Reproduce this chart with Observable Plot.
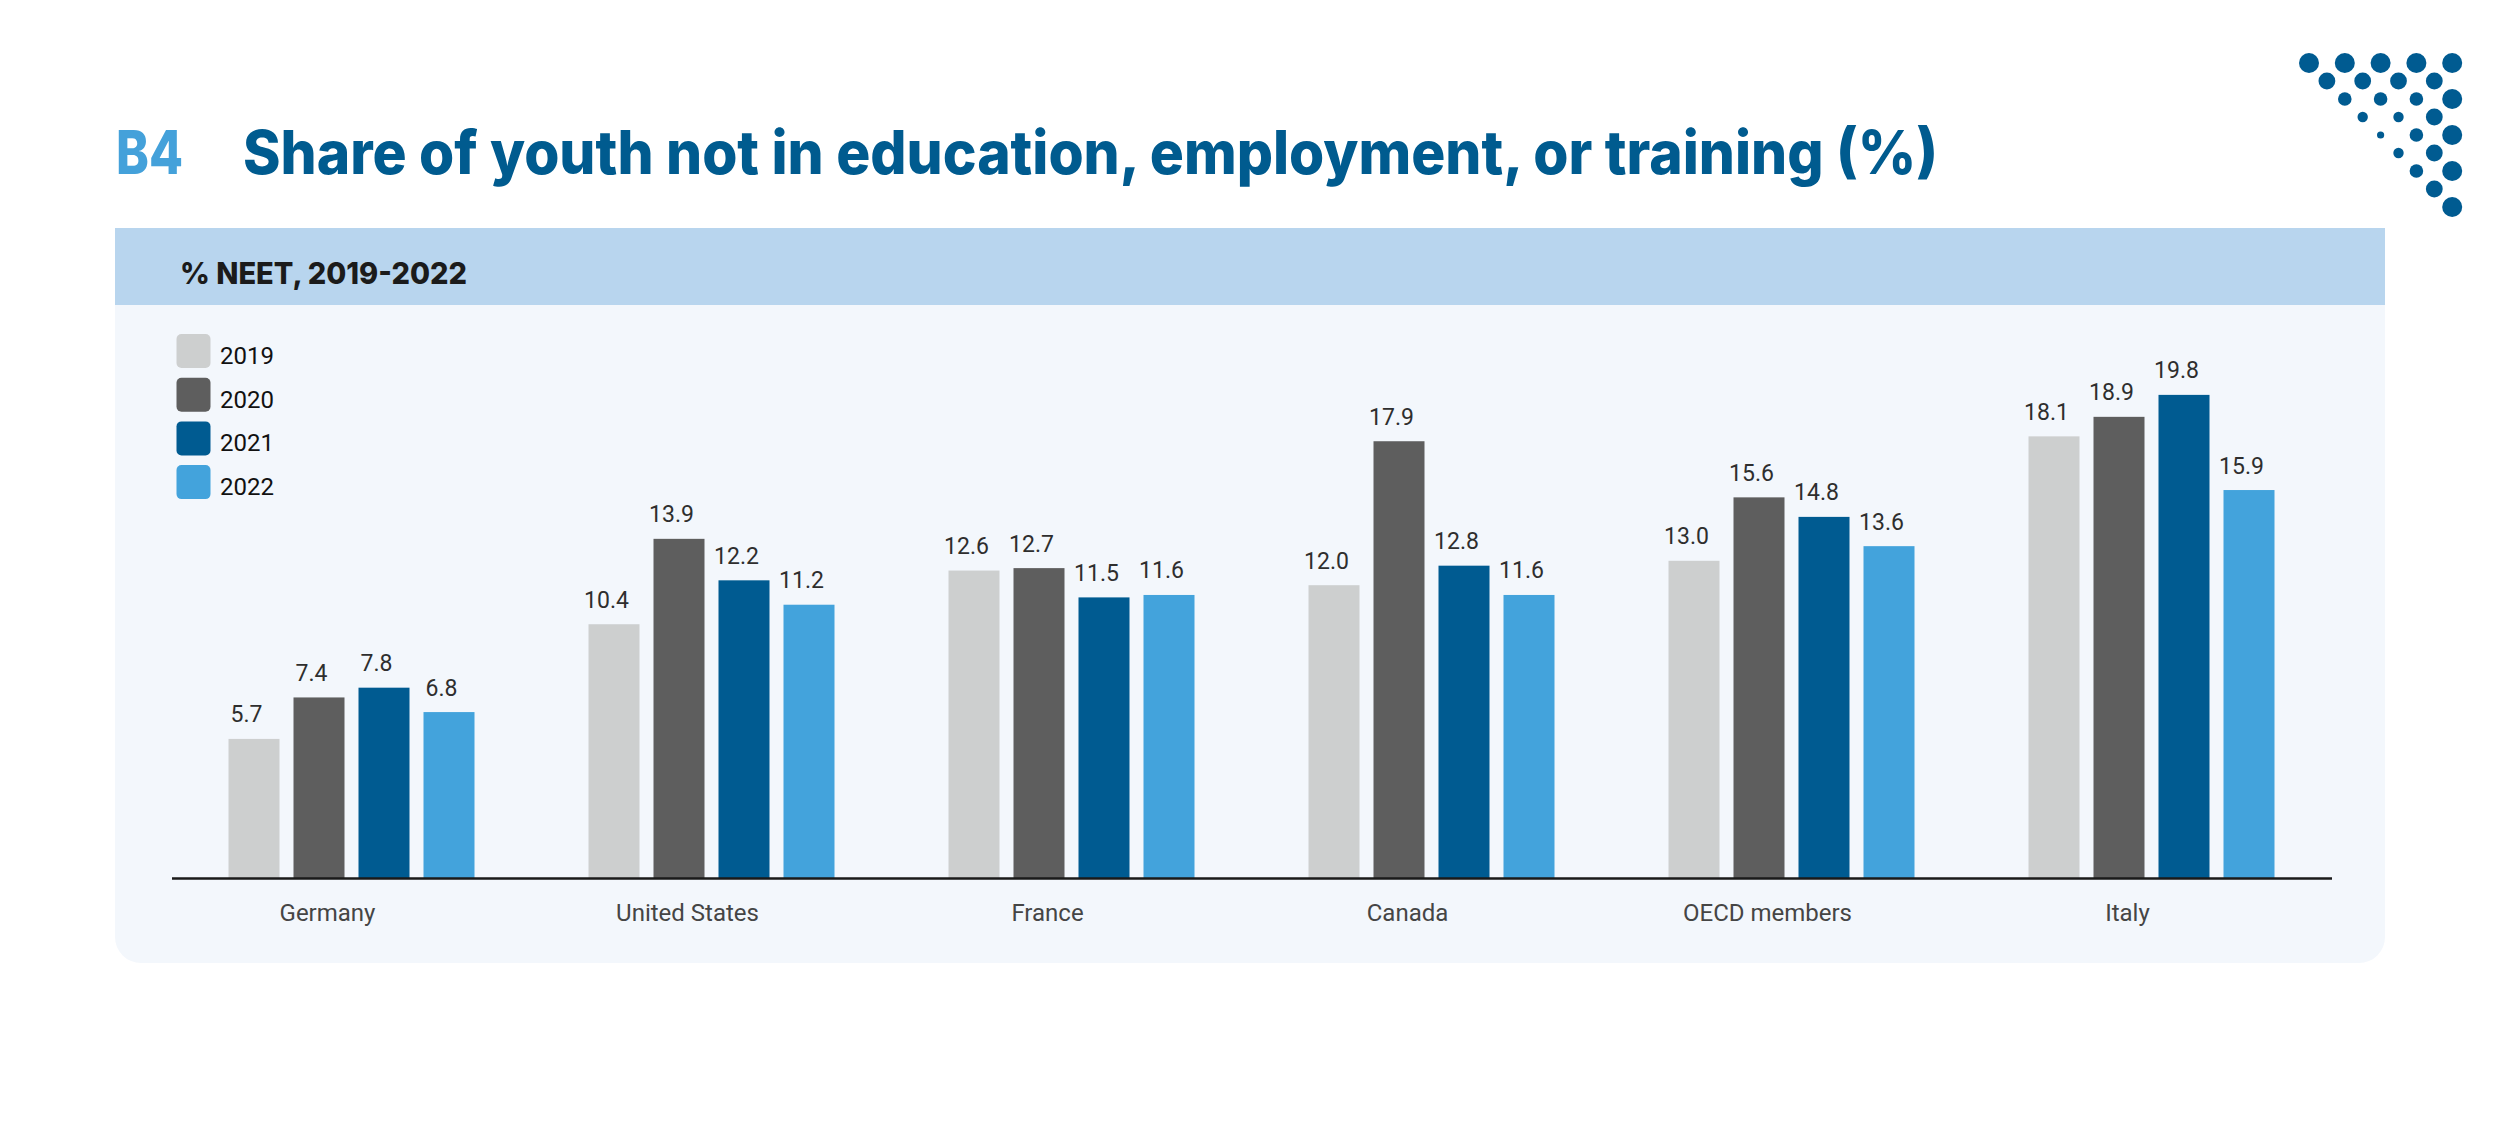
<!DOCTYPE html>
<html>
<head>
<meta charset="utf-8">
<script src="https://cdn.jsdelivr.net/npm/d3@7"></script>
<script src="https://cdn.jsdelivr.net/npm/@observablehq/plot@0.6"></script>
<style>
  html, body { margin: 0; padding: 0; background: #ffffff; overflow: hidden; }
  #page { position: relative; width: 2500px; height: 1129px; }
  .abs { position: absolute; }
  #band { left: 115px; top: 228px; width: 2270px; height: 77px; background: #b8d5ee; }
  #panel { left: 115px; top: 305px; width: 2270px; height: 658px; background: #f3f7fc; border-radius: 0 0 26px 26px; }
  #chart { left: 0; top: 305px; width: 2500px; height: 658px; }
  #overlay { left: 0; top: 0; }
</style>
</head>
<body>
<div id="page">
  <div id="band" class="abs"></div>
  <div id="panel" class="abs"></div>
  <div id="chart" class="abs"></div>
  <svg id="overlay" class="abs" width="2500" height="1129"></svg>
</div>
<script>
// ---- data ----
const countries = ["Germany", "United States", "France", "Canada", "OECD members", "Italy"];
const years = ["2019", "2020", "2021", "2022"];
const v2019 = [5.7, 10.4, 12.6, 12.0, 13.0, 18.1];
const v2020 = [7.4, 13.9, 12.7, 17.9, 15.6, 18.9];
const v2021 = [7.8, 12.2, 11.5, 12.8, 14.8, 19.8];
const v2022 = [6.8, 11.2, 11.6, 11.6, 13.6, 15.9];
const yearColors = ["#cdcfcf", "#5e5e5e", "#005b91", "#43a3dc"];
const titleCode = "B4";
const titleText = "Share of youth not in education, employment, or training (%)";
const subtitleText = "% NEET, 2019-2022";

const series = [v2019, v2020, v2021, v2022];
const data = [];
countries.forEach((c, i) => {
  years.forEach((y, j) => data.push({country: c, year: y, value: series[j][i]}));
});

// ---- chart ----
const chart = Plot.plot({
  width: 2500,
  height: 658,
  marginLeft: 226.5,
  marginRight: 223,
  marginTop: 85,
  marginBottom: 85,
  fx: {domain: countries, paddingInner: 0.312, paddingOuter: 0, axis: null, label: null},
  x: {domain: years, paddingInner: 0.208, paddingOuter: 0, axis: null, label: null},
  y: {domain: [0, 20], axis: null, label: null},
  color: {domain: years, range: yearColors},
  style: {background: "transparent", fontFamily: "Roboto, sans-serif", overflow: "visible"},
  marks: [
    Plot.barY(data, {fx: "country", x: "year", y: "value", fill: "year"}),
    Plot.ruleY([0], {stroke: "#1a1a1a", strokeWidth: 2.5, insetLeft: -56, insetRight: -56}),
    Plot.text(data, {
      fx: "country", x: "year", y: "value",
      text: d => d.value.toFixed(1),
      dy: -17, dx: -8, lineAnchor: "bottom",
      fontSize: 23, fill: "#2e2e2e"
    }),
    Plot.text(countries, {
      fx: d => d, text: d => d,
      frameAnchor: "bottom", lineAnchor: "bottom",
      dy: 42, dx: -25, fontSize: 24, fill: "#454545"
    })
  ]
});
document.getElementById("chart").appendChild(chart);

// ---- titles, legend, logo ----
const ov = d3.select("#overlay");
ov.append("text").text(titleCode)
  .attr("x", 116).attr("y", 174)
  .attr("font-family", "Inter, sans-serif").attr("font-weight", 800).attr("font-size", 60)
  .attr("fill", "#44a1da")
  .attr("textLength", 67).attr("lengthAdjust", "spacingAndGlyphs");
ov.append("text").text(titleText)
  .attr("x", 243).attr("y", 174)
  .attr("font-family", "Inter, sans-serif").attr("font-weight", 800).attr("font-size", 60)
  .attr("fill", "#005b8f")
  .attr("textLength", 1695).attr("lengthAdjust", "spacingAndGlyphs");
ov.append("text").text(subtitleText)
  .attr("x", 180).attr("y", 284)
  .attr("font-family", "Inter, sans-serif").attr("font-weight", 800).attr("font-size", 30)
  .attr("fill", "#1b1b1b")
  .attr("textLength", 287).attr("lengthAdjust", "spacingAndGlyphs");

const leg = ov.append("g");
years.forEach((y, i) => {
  leg.append("rect")
    .attr("x", 176.5).attr("y", 334 + 43.7 * i)
    .attr("width", 34).attr("height", 34).attr("rx", 5)
    .attr("fill", yearColors[i]);
  leg.append("text").text(y)
    .attr("x", 220).attr("y", 364 + 43.7 * i)
    .attr("font-family", "Roboto, sans-serif").attr("font-size", 24)
    .attr("fill", "#111111");
});

// decorative dot logo
const logo = ov.append("g").attr("fill", "#005b91");
for (let j = 0; j <= 8; j++) {
  for (let k = j; k <= 8; k += 2) {
    const m = Math.min(j, 8 - k);
    logo.append("circle")
      .attr("cx", 2309 + 17.9 * k)
      .attr("cy", 63 + 18 * j)
      .attr("r", 10 - 1.6 * m);
  }
}
</script>
</body>
</html>
